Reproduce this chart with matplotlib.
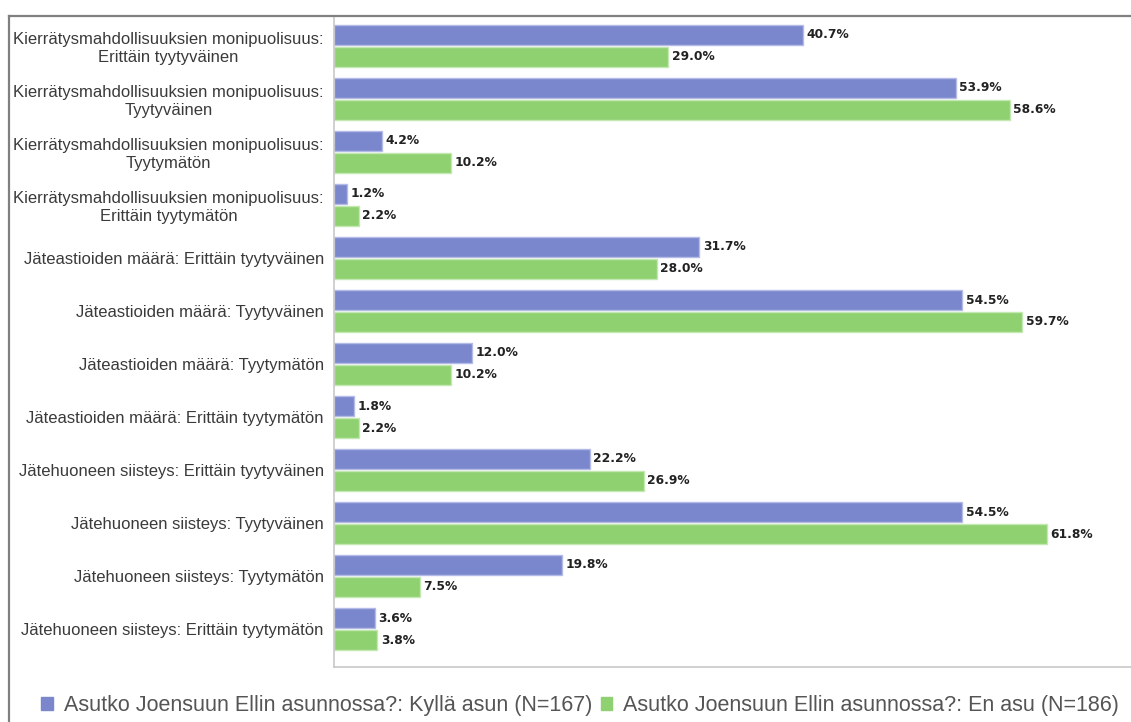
import matplotlib
matplotlib.use("Agg")
import matplotlib.pyplot as plt
from matplotlib.lines import Line2D
from matplotlib.patches import Rectangle
import numpy as np

categories = [
    "Kierrätysmahdollisuuksien monipuolisuus:\nErittäin tyytyväinen",
    "Kierrätysmahdollisuuksien monipuolisuus:\nTyytyväinen",
    "Kierrätysmahdollisuuksien monipuolisuus:\nTyytymätön",
    "Kierrätysmahdollisuuksien monipuolisuus:\nErittäin tyytymätön",
    "Jäteastioiden määrä: Erittäin tyytyväinen",
    "Jäteastioiden määrä: Tyytyväinen",
    "Jäteastioiden määrä: Tyytymätön",
    "Jäteastioiden määrä: Erittäin tyytymätön",
    "Jätehuoneen siisteys: Erittäin tyytyväinen",
    "Jätehuoneen siisteys: Tyytyväinen",
    "Jätehuoneen siisteys: Tyytymätön",
    "Jätehuoneen siisteys: Erittäin tyytymätön",
]
kylla_asun = [40.7, 53.9, 4.2, 1.2, 31.7, 54.5, 12.0, 1.8, 22.2, 54.5, 19.8, 3.6]
en_asu = [29.0, 58.6, 10.2, 2.2, 28.0, 59.7, 10.2, 2.2, 26.9, 61.8, 7.5, 3.8]
series_labels = [
    "Asutko Joensuun Ellin asunnossa?: Kyllä asun (N=167)",
    "Asutko Joensuun Ellin asunnossa?: En asu (N=186)",
]

blue = "#7b87cd"
green = "#8fd170"
blue_edge = "#b3bbe6"
green_edge = "#c4e8b2"

W, H = 1131, 722
fig = plt.figure(figsize=(W / 100, H / 100), dpi=100)

# plot area in pixel terms
left_px, right_px, top_px, bottom_px = 333.5, 1131, 16, 667
ax = fig.add_axes([left_px / W, 1 - bottom_px / H,
                   (right_px - left_px) / W, (bottom_px - top_px) / H])

n = len(categories)
y = np.arange(n)
bh = 20 / 53
off = 11 / 53
ax.barh(y - off, kylla_asun, height=bh, color=blue, edgecolor=blue_edge, linewidth=1)
ax.barh(y + off, en_asu, height=bh, color=green, edgecolor=green_edge, linewidth=1)

for ys, vals in ((y - off, kylla_asun), (y + off, en_asu)):
    for yi, v in zip(ys, vals):
        ax.annotate(f"{v:.1f}%", (v, yi), xytext=(2.5, 0), textcoords="offset points",
                    ha="left", va="center", fontsize=8.8, color="#222222",
                    family="DejaVu Sans", fontweight="bold")

ax.set_xlim(0, (right_px - left_px) / 11.54)
ax.set_ylim(n - 1 + 38 / 53, -30 / 53)
ax.set_yticks(y)
ax.set_yticklabels(categories, fontsize=12, color="#3a3a3a",
                   family="Liberation Sans", multialignment="center",
                   linespacing=1.25)
ax.tick_params(axis="y", length=0, pad=7)
ax.set_xticks([])
for s in ("top", "right"):
    ax.spines[s].set_visible(False)
for s in ("left", "bottom"):
    ax.spines[s].set_color("#c8c8c8")
    ax.spines[s].set_linewidth(1.2)

# outer frame: top and left edges
fig.add_artist(Line2D([9 / W, 1], [1 - 16 / H, 1 - 16 / H], color="#808080", lw=1.6))
fig.add_artist(Line2D([9 / W, 9 / W], [0, 1 - 16 / H], color="#808080", lw=1.6))

# legend
handles = [Rectangle((0, 0), 1, 1, color=blue), Rectangle((0, 0), 1, 1, color=green)]
fig.legend(handles, series_labels, loc="center", bbox_to_anchor=(580 / W, 1 - 706 / H),
           ncol=2, frameon=False, handlelength=0.55, handleheight=0.55,
           handletextpad=0.5, columnspacing=0.4, labelcolor="#555555",
           borderaxespad=0, borderpad=0,
           prop={"family": "Liberation Sans", "size": 15.5})

fig.savefig("out.png", dpi=100)
